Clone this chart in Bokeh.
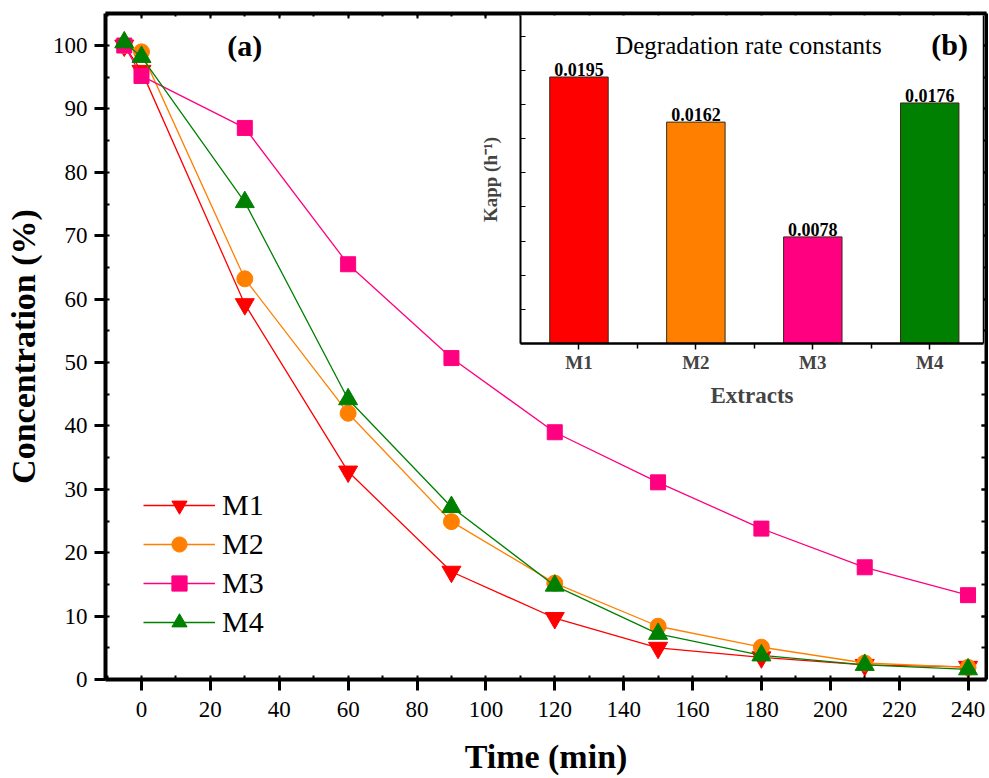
from bokeh.plotting import figure
from bokeh.models import (Range1d, LinearAxis, SingleIntervalTicker, FixedTicker,
                          Legend, LegendItem, Label, ColumnDataSource, CustomJSTickFormatter)
from bokeh.layouts import column
from bokeh.embed import file_html
from bokeh.resources import INLINE
from bokeh.core.properties import value

# ---------------- data ----------------
time_min = [-5, 0, 30, 60, 90, 120, 150, 180, 210, 240]
m1 = [100.0, 96.0, 59.2, 32.8, 17.0, 9.7, 5.0, 3.5, 2.3, 2.0]
m2 = [100.0, 99.0, 63.2, 42.0, 24.9, 15.2, 8.4, 5.1, 2.6, 1.9]
m3 = [100.0, 95.2, 87.0, 65.5, 50.7, 39.0, 31.1, 23.8, 17.7, 13.3]
m4 = [100.5, 98.2, 75.3, 44.2, 27.2, 14.8, 7.2, 3.8, 2.3, 1.6]
series_names = ["M1", "M2", "M3", "M4"]
series_colors = ["#FF0000", "#FF8000", "#FF0080", "#008000"]

extracts = ["M1", "M2", "M3", "M4"]
extract_pos = [1, 2, 3, 4]
kapp = [0.0195, 0.0162, 0.0078, 0.0176]

FONT = "Liberation Serif"


def blank():
    return CustomJSTickFormatter(code="return '';")


# ---------------- main plot ----------------
p = figure(width=988, height=777, output_backend="svg", toolbar_location=None,
           x_range=Range1d(-10.45, 245.36), y_range=Range1d(0, 105.05),
           min_border_left=105, min_border_right=2, min_border_top=13, min_border_bottom=98,
           x_axis_label="Time (min)", y_axis_label="Concentration (%)")
p.xgrid.visible = False
p.ygrid.visible = False
p.outline_line_color = None
p.background_fill_color = "white"

p.xaxis.ticker = SingleIntervalTicker(interval=20, num_minor_ticks=2)
p.yaxis.ticker = SingleIntervalTicker(interval=10, num_minor_ticks=2)
for ax in [p.xaxis[0], p.yaxis[0]]:
    ax.axis_line_width = 4
    ax.major_tick_line_width = 3
    ax.minor_tick_line_width = 2
    ax.major_tick_out = 11
    ax.major_tick_in = 0
    ax.minor_tick_in = 4
    ax.minor_tick_out = 0
    ax.major_label_text_font = FONT
    ax.major_label_text_font_size = "23px"
    ax.major_label_text_color = "black"
    ax.axis_label_text_font = FONT
    ax.axis_label_text_font_style = "bold"
    ax.axis_label_text_font_size = "34px"
    ax.axis_label_text_color = "black"
p.xaxis.major_label_standoff = 11
p.yaxis.major_label_standoff = 7
p.xaxis.axis_label_standoff = 18
p.yaxis.axis_label_standoff = 8

top_ax = LinearAxis(ticker=SingleIntervalTicker(interval=20, num_minor_ticks=2),
                    formatter=blank(), major_label_orientation="vertical",
                    major_label_standoff=0,
                    axis_line_width=4, major_tick_in=5, major_tick_out=0,
                    minor_tick_in=3, minor_tick_out=0, major_tick_line_width=2,
                    minor_tick_line_width=2)
right_ax = LinearAxis(ticker=SingleIntervalTicker(interval=10, num_minor_ticks=2),
                      formatter=blank(), major_label_standoff=0,
                      axis_line_width=4, major_tick_in=5, major_tick_out=0,
                      minor_tick_in=5, minor_tick_out=0, major_tick_line_width=2,
                      minor_tick_line_width=2)
p.add_layout(top_ax, "above")
p.add_layout(right_ax, "right")

src = ColumnDataSource(dict(t=time_min, M1=m1, M2=m2, M3=m3, M4=m4))
markers = ["inverted_triangle", "circle", "square", "triangle"]
sizes = [19, 16, 15, 19]
items = []
for name, col, mk, sz in zip(series_names, series_colors, markers, sizes):
    ln = p.line("t", name, source=src, line_color=col, line_width=1.3)
    sc = p.scatter("t", name, source=src, marker=mk, size=sz, fill_color=col,
                   line_color=col, line_width=1)
    items.append(LegendItem(label=name, renderers=[ln, sc]))

leg = Legend(items=items, location=(38, 38), glyph_width=72, glyph_height=38,
             label_height=38, spacing=1, padding=0, margin=0, label_standoff=7,
             label_text_font=FONT, label_text_font_size="30px",
             label_text_color="black", border_line_color=None,
             background_fill_alpha=0)
p.add_layout(leg)

p.add_layout(Label(x=30, y=100, text="(a)", text_font=FONT, text_font_size="30px",
                   text_font_style="bold", text_align="center",
                   text_baseline="middle", text_color="black"))

# ---------------- inset bar chart ----------------
ins = figure(width=570, height=398, output_backend="svg", toolbar_location=None,
             x_range=Range1d(0.5, 4.46), y_range=Range1d(0, 0.024),
             min_border_left=50, min_border_right=2, min_border_top=0,
             min_border_bottom=70, x_axis_label="Extracts", y_axis_label="Kapp (h\u207b\u00b9)",
             styles={"position": "absolute", "left": "415px", "top": "15px"})
ins.xgrid.visible = False
ins.ygrid.visible = False
ins.outline_line_color = None
ins.background_fill_color = "white"
ins.border_fill_alpha = 0

bsrc = ColumnDataSource(dict(x=extract_pos, top=kapp, color=series_colors,
                             lab=[f"{v:.4f}" for v in kapp]))
ins.vbar(x="x", top="top", width=0.5, source=bsrc, fill_color="color",
         line_color="#3a2a1a", line_width=1)
ins.text(x="x", y="top", text="lab", source=bsrc, text_font=value(FONT),
         text_font_size="18px", text_font_style="bold", text_align="center",
         text_baseline="bottom", y_offset=-1, text_color="black")

xa = ins.xaxis[0]
xa.ticker = FixedTicker(ticks=extract_pos, minor_ticks=[1.5, 2.5, 3.5])
xa.major_label_overrides = {pos: lab for pos, lab in zip(extract_pos, extracts)}
xa.axis_line_width = 2.5
xa.major_tick_out = 6
xa.major_tick_in = 0
xa.minor_tick_out = 5
xa.minor_tick_in = 0
xa.major_tick_line_width = 1.5
xa.minor_tick_line_width = 1.5
xa.major_label_text_font = FONT
xa.major_label_text_font_style = "bold"
xa.major_label_text_font_size = "19px"
xa.major_label_standoff = 2
xa.axis_label_text_font = FONT
xa.axis_label_text_font_style = "bold"
xa.axis_label_text_font_size = "23px"
xa.axis_label_standoff = 7

ya = ins.yaxis[0]
ya.ticker = SingleIntervalTicker(interval=0.0025, num_minor_ticks=0)
ya.formatter = blank()
ya.axis_line_width = 2
ya.major_tick_in = 5
ya.major_tick_out = 0
ya.minor_tick_in = 0
ya.minor_tick_out = 0
ya.major_tick_line_width = 1
ya.major_label_standoff = 0
ya.axis_label_text_font = FONT
ya.axis_label_text_font_style = "bold"
ya.axis_label_text_font_size = "19px"
ya.axis_label_standoff = 20

ins_right = LinearAxis(formatter=blank(), major_label_standoff=0,
                       axis_line_width=1.5, major_tick_in=0, major_tick_out=0,
                       minor_tick_in=0, minor_tick_out=0)
ins.add_layout(ins_right, "right")

ins.add_layout(Label(x=2.45, y=0.0218, text="Degradation rate constants", text_font=FONT,
                     text_font_size="25px", text_align="center",
                     text_baseline="alphabetic", text_color="black"))
ins.add_layout(Label(x=4.17, y=0.02185, text="(b)", text_font=FONT, text_font_size="30px",
                     text_font_style="bold", text_align="center",
                     text_baseline="middle", text_color="black"))

layout = column(p, ins, width=988, height=777, styles={"position": "relative"})
open("out.html", "w").write(file_html(layout, INLINE))
